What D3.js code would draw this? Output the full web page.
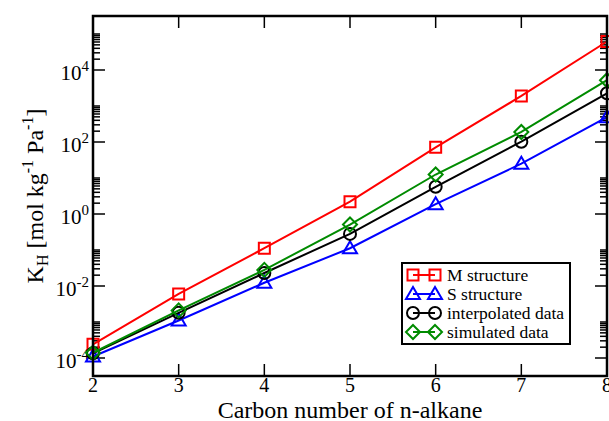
<!DOCTYPE html>
<html>
<head>
<meta charset="utf-8">
<script src="https://cdn.jsdelivr.net/npm/d3@7"></script>
<style>
  html, body { margin: 0; padding: 0; background: #fff; }
  svg { display: block; }
  svg text { font-family: "Liberation Serif", "Times New Roman", Times, serif; }
</style>
</head>
<body>
<svg id="chart" width="609" height="421"></svg>
<script>
// Henry's law constants of n-alkanes versus carbon number
const carbonNumbers = [2, 3, 4, 5, 6, 7, 8];
const mStructure    = [2.4e-4, 6.0e-3, 0.112, 2.2, 71, 1900, 6.2e4];
const sStructure    = [1.1e-4, 1.1e-3, 0.0123, 0.112, 1.87, 25, 490];
const interpolated  = [1.35e-4, 1.8e-3, 0.023, 0.28, 5.7, 102, 2250];
const simulated     = [1.4e-4, 2.1e-3, 0.028, 0.51, 12.5, 190, 5200];

const xTickValues = [2, 3, 4, 5, 6, 7, 8];
const yTickExponents = [-4, -2, 0, 2, 4];

const series = [
  { name: "M structure",       values: mStructure,   color: "#ff0000", symbol: "square" },
  { name: "S structure",       values: sStructure,   color: "#0000ff", symbol: "triangle" },
  { name: "interpolated data", values: interpolated, color: "#000000", symbol: "circle" },
  { name: "simulated data",    values: simulated,    color: "#008b00", symbol: "diamond" }
];

const frame = { left: 93, right: 607, top: 16, bottom: 376 };

const svg = d3.select("#chart");

const x = d3.scaleLinear().domain([2, 8]).range([frame.left, frame.right]);
const y = d3.scaleLog().domain([Math.pow(10, -4.5), Math.pow(10, 5.5)]).range([frame.bottom, frame.top]);

// tick sets: labelled decades every 100x, minor ticks at 2..10 times each labelled decade
const majorTicks = yTickExponents.map(e => Math.pow(10, e));
const minorTicks = [];
[-6, -4, -2, 0, 2, 4].forEach(e => {
  for (let m = 2; m <= 10; m++) {
    const v = m * Math.pow(10, e);
    if (v > y.domain()[0] && v < y.domain()[1]) minorTicks.push(v);
  }
});

const majorLen = 12, minorLen = 7;
const tickGroup = svg.append("g").attr("stroke", "#000").attr("stroke-width", 1.5);

// left and right axis ticks (inward)
[
  { x0: frame.left, dir: 1 },
  { x0: frame.right, dir: -1 }
].forEach(ax => {
  tickGroup.selectAll(null).data(majorTicks).enter().append("line")
    .attr("x1", ax.x0).attr("x2", ax.x0 + ax.dir * majorLen)
    .attr("y1", d => y(d)).attr("y2", d => y(d));
  tickGroup.selectAll(null).data(minorTicks).enter().append("line")
    .attr("x1", ax.x0).attr("x2", ax.x0 + ax.dir * minorLen)
    .attr("y1", d => y(d)).attr("y2", d => y(d));
});

// bottom and top axis ticks (inward)
[
  { y0: frame.bottom, dir: -1 },
  { y0: frame.top, dir: 1 }
].forEach(ax => {
  tickGroup.selectAll(null).data(xTickValues).enter().append("line")
    .attr("x1", d => x(d)).attr("x2", d => x(d))
    .attr("y1", ax.y0).attr("y2", ax.y0 + ax.dir * majorLen);
});

// x tick labels
svg.append("g").selectAll("text").data(xTickValues).enter().append("text")
  .attr("x", d => x(d)).attr("y", frame.bottom + 16)
  .attr("text-anchor", "middle").attr("font-size", 20)
  .text(d => d);

// y tick labels 10^n
const yLab = svg.append("g").selectAll("text").data(yTickExponents).enter().append("text")
  .attr("x", frame.left - 4).attr("y", d => y(Math.pow(10, d)) + 10)
  .attr("text-anchor", "end").attr("font-size", 21);
yLab.append("tspan").text("10");
yLab.append("tspan").attr("font-size", 15).attr("dy", -9).text(d => d);

// axis titles
svg.append("text")
  .attr("x", (frame.left + frame.right) / 2).attr("y", 418)
  .attr("text-anchor", "middle").attr("font-size", 24)
  .text("Carbon number of n-alkane");

const yTitle = svg.append("text")
  .attr("transform", `translate(43, ${(frame.top + frame.bottom) / 2}) rotate(-90)`)
  .attr("text-anchor", "middle").attr("font-size", 24);
yTitle.append("tspan").text("K");
yTitle.append("tspan").attr("font-size", 16).attr("dy", 5).text("H");
yTitle.append("tspan").attr("dy", -5).text(" [mol kg");
yTitle.append("tspan").attr("font-size", 16).attr("dy", -10).text("-1");
yTitle.append("tspan").attr("dy", 10).text(" Pa");
yTitle.append("tspan").attr("font-size", 16).attr("dy", -10).text("-1");
yTitle.append("tspan").attr("dy", 10).text("]");

// symbol shapes
function symbolPath(kind) {
  switch (kind) {
    case "square":   return "M-5.5,-5.5H5.5V5.5H-5.5Z";
    case "circle":   return "M6,0A6,6 0 1,1 -6,0A6,6 0 1,1 6,0Z";
    case "diamond":  return "M0,-7L7,0L0,7L-7,0Z";
    case "triangle": return "M0,-7L7,5L-7,5Z";
  }
}

const line = d3.line().x(d => x(d.c)).y(d => y(d.v));
const plot = svg.append("g");
series.forEach(s => {
  const pts = carbonNumbers.map((c, i) => ({ c, v: s.values[i] }));
  const g = plot.append("g");
  g.append("path").datum(pts).attr("d", line)
    .attr("fill", "none").attr("stroke", s.color).attr("stroke-width", 2);
  g.selectAll("path.sym").data(pts).enter().append("path").attr("class", "sym")
    .attr("transform", d => `translate(${x(d.c)},${y(d.v)})`)
    .attr("d", symbolPath(s.symbol))
    .attr("fill", "none").attr("stroke", s.color).attr("stroke-width", 2);
});

// frame
svg.append("rect")
  .attr("x", frame.left).attr("y", frame.top)
  .attr("width", frame.right - frame.left).attr("height", frame.bottom - frame.top)
  .attr("fill", "none").attr("stroke", "#000").attr("stroke-width", 2.5);

// legend
const legend = svg.append("g");
legend.append("rect")
  .attr("x", 402).attr("y", 263).attr("width", 168).attr("height", 81)
  .attr("fill", "#fff").attr("stroke", "#000").attr("stroke-width", 2);
series.forEach((s, i) => {
  const cy = 275 + i * 19;
  const row = legend.append("g");
  row.append("line").attr("x1", 413).attr("x2", 435).attr("y1", cy).attr("y2", cy)
    .attr("stroke", s.color).attr("stroke-width", 2);
  [413, 435].forEach(cx => {
    row.append("path").attr("transform", `translate(${cx},${cy})`)
      .attr("d", symbolPath(s.symbol))
      .attr("fill", "none").attr("stroke", s.color).attr("stroke-width", 2);
  });
  row.append("text").attr("x", 447).attr("y", cy + 6)
    .attr("font-size", 17.5).text(s.name);
});
</script>
</body>
</html>
